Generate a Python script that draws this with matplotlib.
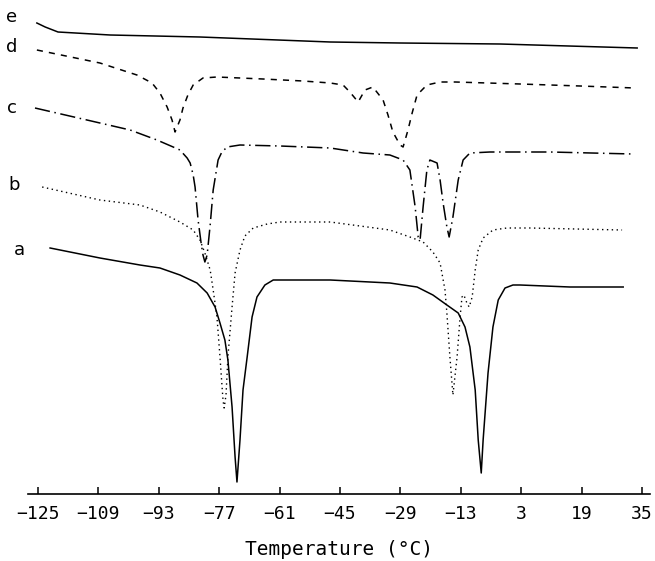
import matplotlib
matplotlib.use("Agg")
import matplotlib.pyplot as plt

# Temperature (°C) / signal (arbitrary units)
a_T = [-121.8, -108.6, -98.0, -92.7, -87.4, -82.9, -80.2, -78.1, -76.8, -75.5, -74.7, -73.6,
       -72.8, -72.3, -71.5, -70.7, -69.6, -68.3, -67.0, -64.9, -62.7, -60.9, -47.6, -31.8,
       -24.6, -20.4, -16.7, -13.7, -11.9, -10.6, -9.2, -8.4, -7.6, -7.1, -5.8, -4.5, -3.1,
       -1.3, 0.8, 2.7, 15.9, 30.0]
a_y = [24.6, 23.6, 22.9, 22.6, 21.9, 21.1, 20.1, 18.7, 17.1, 15.4, 13.4, 8.7,
       3.7, 1.2, 5.4, 10.4, 13.7, 17.7, 19.7, 20.9, 21.4, 21.4, 21.4, 21.1,
       20.7, 19.9, 18.9, 18.1, 16.7, 14.7, 10.4, 5.4, 2.1, 5.4, 12.1, 16.7, 19.4,
       20.6, 20.9, 20.9, 20.7, 20.7]

b_T = [-123.9, -108.6, -98.0, -92.7, -87.4, -83.9, -82.1, -80.8, -79.4, -78.6, -77.6, -76.8,
       -76.0, -75.7, -75.2, -74.7, -73.6, -72.8, -71.5, -70.2, -68.0, -64.3, -60.9, -47.6,
       -31.8, -26.5, -23.0, -20.4, -18.5, -17.2, -16.7, -15.9, -15.1, -14.0, -13.2, -12.7,
       -12.2, -11.4, -10.8, -10.0, -9.2, -8.4, -7.1, -4.5, -0.8, 5.3, 29.7]
b_y = [30.7, 29.4, 28.9, 28.2, 27.2, 26.4, 25.4, 24.1, 22.4, 20.4, 17.7, 13.7,
       9.4, 8.6, 9.9, 13.7, 18.7, 22.1, 24.4, 25.8, 26.6, 27.0, 27.2, 27.2,
       26.4, 25.7, 25.2, 24.2, 23.1, 20.4, 18.1, 13.7, 9.9, 13.7, 17.7, 19.7,
       19.9, 19.1, 18.7, 19.7, 22.4, 24.4, 25.6, 26.4, 26.6, 26.6, 26.4]

c_T = [-125.8, -108.6, -100.6, -93.5, -89.2, -87.4, -85.5, -84.7, -83.9, -83.4, -82.6, -81.8,
       -81.3, -80.8, -80.2, -79.4, -78.6, -77.3, -76.3, -74.9, -71.5, -60.9, -47.6, -38.9,
       -31.8, -28.3, -26.5, -25.1, -24.3, -23.8, -23.0, -22.0, -21.2, -19.3, -18.5, -17.7,
       -16.7, -16.1, -15.1, -13.7, -12.4, -10.6, -5.3, 10.6, 32.6]
c_y = [38.6, 37.1, 36.4, 35.4, 34.7, 34.4, 33.6, 33.1, 31.9, 30.7, 27.4, 25.1,
       23.9, 23.2, 23.9, 26.9, 30.4, 33.4, 34.2, 34.7, 34.9, 34.8, 34.6, 34.1,
       33.9, 33.4, 32.4, 28.7, 25.7, 25.4, 28.7, 32.4, 33.4, 33.1, 31.4, 29.1,
       26.7, 25.7, 27.7, 31.4, 33.4, 34.1, 34.2, 34.2, 34.0]

d_T = [-125.3, -108.6, -98.8, -94.8, -92.7, -90.8, -89.5, -88.7, -87.4, -86.6, -85.3, -83.9,
       -81.3, -77.6, -65.4, -54.8, -47.6, -44.2, -42.4, -40.2, -38.4, -36.3, -33.6, -32.3,
       -31.0, -29.1, -28.3, -27.0, -25.9, -24.6, -22.0, -18.5, -14.5, 2.7, 18.6, 33.1]
d_y = [44.4, 43.1, 41.9, 41.1, 40.1, 38.7, 37.4, 36.2, 37.4, 38.6, 39.9, 40.9,
       41.6, 41.7, 41.5, 41.3, 41.1, 40.9, 40.2, 39.2, 40.4, 40.7, 39.4, 37.9,
       36.2, 34.9, 34.7, 36.4, 38.1, 39.9, 40.9, 41.2, 41.2, 41.0, 40.8, 40.6]

e_T = [-125.3, -123.1, -119.7, -105.9, -82.1, -47.6, -29.1, -2.6, 33.7]
e_y = [47.1, 46.7, 46.2, 45.9, 45.7, 45.2, 45.1, 45.0, 44.6]

tick_vals = [-125, -109, -93, -77, -61, -45, -29, -13, 3, 19, 35]
curve_labels = ["a", "b", "c", "d", "e"]
label_pos = [(-129.8, 24.4), (-131.4, 30.9), (-131.9, 38.6), (-131.9, 44.7), (-131.9, 47.7)]

fig = plt.figure(figsize=(6.55, 5.61), dpi=100)
ax = fig.add_axes([28 / 655, 67 / 561, 622 / 655, 486 / 561])

lw = 1.1
ax.plot(a_T, a_y, color="black", lw=lw, linestyle="-")
ax.plot(b_T, b_y, color="black", lw=1.0, linestyle=(0, (1, 2.5)))
ax.plot(c_T, c_y, color="black", lw=lw, linestyle=(0, (10, 3, 1, 3)))
ax.plot(d_T, d_y, color="black", lw=lw, linestyle=(0, (4, 4)))
ax.plot(e_T, e_y, color="black", lw=lw, linestyle="-")

for lab, (tx, ty) in zip(curve_labels, label_pos):
    ax.text(tx, ty, lab, fontsize=13, ha="center", va="center", clip_on=False,
            family="DejaVu Sans")

ax.set_xlim(-127.65, 37.1)
ax.set_ylim(0, 48.6)
for s in ["top", "right", "left"]:
    ax.spines[s].set_visible(False)
ax.spines["bottom"].set_linewidth(1.2)
ax.set_yticks([])
ax.set_xticks(tick_vals)
ax.set_xticklabels([f"{v}".replace("-", "\u2212") for v in tick_vals],
                   family="DejaVu Sans Mono", fontsize=13)
ax.tick_params(axis="x", direction="in", length=5, width=1.1, pad=8)
ax.set_xlabel("Temperature (°C)", family="DejaVu Sans Mono", fontsize=14, labelpad=12)

fig.savefig("out.png", dpi=100)
